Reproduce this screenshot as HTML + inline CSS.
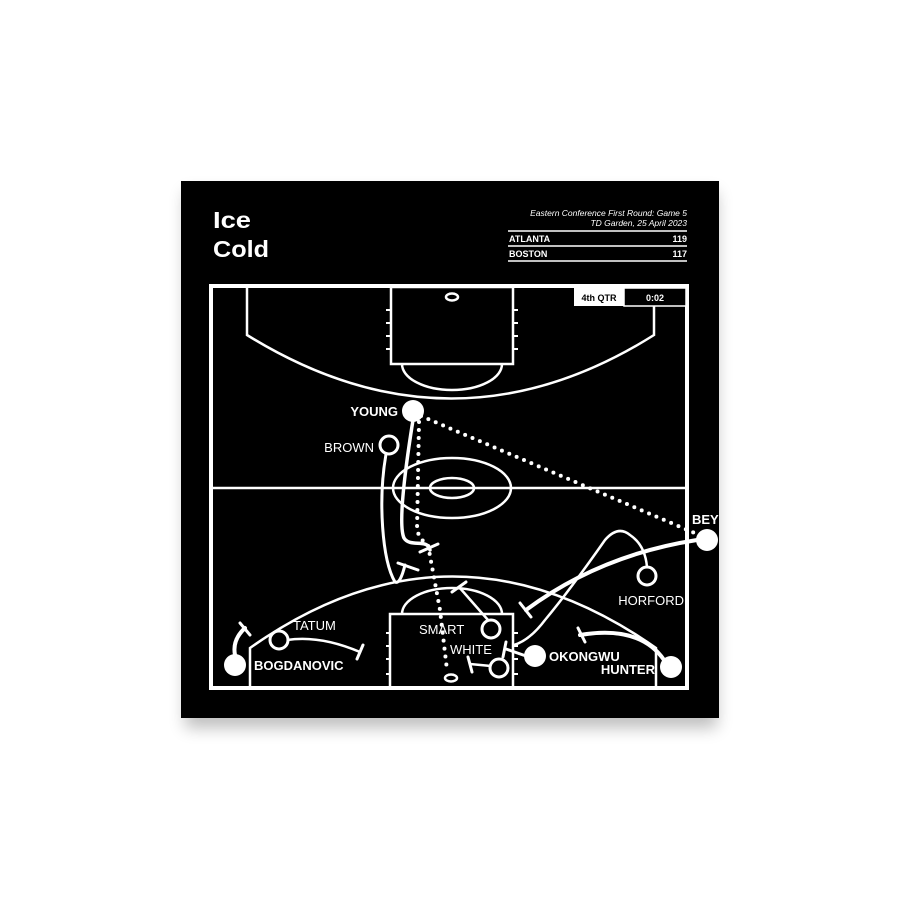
<!DOCTYPE html>
<html><head><meta charset="utf-8"><style>
html,body{margin:0;padding:0;background:#fff;width:900px;height:900px;overflow:hidden}
svg{display:block}
text{font-family:"Liberation Sans",Arial,sans-serif;fill:#fff}
</style></head><body>
<svg width="900" height="900" viewBox="0 0 900 900">
<defs><filter id="sh" x="-10%" y="-10%" width="120%" height="130%"><feGaussianBlur stdDeviation="8"/></filter>
<clipPath id="pc"><rect x="181" y="181" width="538" height="537"/></clipPath></defs>
<rect x="185" y="192" width="532" height="536" fill="#000" opacity="0.25" filter="url(#sh)"/>
<rect x="181" y="181" width="538" height="537" fill="#000"/>
<g clip-path="url(#pc)">
<text x="213" y="228" font-size="23" font-weight="bold" textLength="38" lengthAdjust="spacingAndGlyphs">Ice</text>
<text x="213" y="257" font-size="23" font-weight="bold" textLength="56" lengthAdjust="spacingAndGlyphs">Cold</text>
<text x="687" y="216" font-size="8.5" font-style="italic" text-anchor="end">Eastern Conference First Round: Game 5</text>
<text x="687" y="226" font-size="8.5" font-style="italic" text-anchor="end">TD Garden, 25 April 2023</text>
<g stroke="#fff" stroke-width="1.5"><line x1="508" y1="231" x2="687" y2="231"/><line x1="508" y1="246" x2="687" y2="246"/><line x1="508" y1="261" x2="687" y2="261"/></g>
<text x="509" y="242" font-size="9" font-weight="bold">ATLANTA</text><text x="687" y="242" font-size="9" font-weight="bold" text-anchor="end">119</text>
<text x="509" y="257" font-size="9" font-weight="bold">BOSTON</text><text x="687" y="257" font-size="9" font-weight="bold" text-anchor="end">117</text>
<g fill="none" stroke="#fff" stroke-width="2.5">
<rect x="211" y="286" width="476" height="402" stroke-width="4"/>
<line x1="211" y1="488" x2="687" y2="488"/>
<ellipse cx="452" cy="488" rx="59" ry="30"/>
<ellipse cx="452" cy="488" rx="22" ry="10"/>
<path d="M247,287 V335 Q452,462 654,335 V287"/>
<rect x="391" y="287" width="122" height="77"/>
<path d="M402,364 A50,26 0 0 0 502,364"/>
<ellipse cx="452" cy="297" rx="6" ry="3.5"/>
<path d="M250,688 V648 Q452,505 656,648 V688"/>
<rect x="390" y="614" width="123" height="74"/>
<path d="M402,614 A50,26 0 0 1 502,614"/>
<ellipse cx="451" cy="678" rx="6" ry="3.5"/>
</g>
<g stroke="#fff" stroke-width="2"><line x1="386" y1="310" x2="390" y2="310"/><line x1="386" y1="323" x2="390" y2="323"/><line x1="386" y1="336" x2="390" y2="336"/><line x1="386" y1="349" x2="390" y2="349"/><line x1="514" y1="310" x2="518" y2="310"/><line x1="514" y1="323" x2="518" y2="323"/><line x1="514" y1="336" x2="518" y2="336"/><line x1="514" y1="349" x2="518" y2="349"/>
<line x1="386" y1="633" x2="390" y2="633"/><line x1="386" y1="646" x2="390" y2="646"/><line x1="386" y1="659" x2="390" y2="659"/><line x1="386" y1="674" x2="390" y2="674"/><line x1="514" y1="633" x2="518" y2="633"/><line x1="514" y1="646" x2="518" y2="646"/><line x1="514" y1="659" x2="518" y2="659"/><line x1="514" y1="674" x2="518" y2="674"/></g>
<rect x="574" y="288" width="50" height="18" fill="#fff"/>
<rect x="624" y="288" width="62" height="18" fill="#000" stroke="#fff" stroke-width="1.5"/>
<text x="599" y="301" font-size="9" font-weight="bold" text-anchor="middle" style="fill:#000">4th QTR</text>
<text x="655" y="301" font-size="9" font-weight="bold" text-anchor="middle">0:02</text>
<g fill="none" stroke="#fff" stroke-linecap="round">
<path d="M421,416 L697,534" stroke-width="4" stroke-dasharray="0 8"/>
<path d="M419,422 L417,530 Q420,540 428,545 L440,610 L447,670" stroke-width="4" stroke-dasharray="0 8"/>
<path d="M413,420 C405,470 398,525 404,538 C410,548 428,538 430,550" stroke-width="3.5"/>
<line x1="420" y1="552" x2="438" y2="544" stroke-width="3"/>
<path d="M386,454 C378,500 382,560 395,582 Q400,585 405,565" stroke-width="3"/>
<line x1="398" y1="563" x2="418" y2="570" stroke-width="3"/>
<path d="M488,620 L459,587" stroke-width="2.5"/><line x1="452" y1="592" x2="466" y2="582" stroke-width="3"/>
<line x1="491" y1="666" x2="470" y2="664" stroke-width="2.5"/><line x1="468" y1="657" x2="472" y2="672" stroke-width="3"/>
<line x1="526" y1="656" x2="506" y2="649" stroke-width="3"/><line x1="506" y1="642" x2="503" y2="657" stroke-width="3"/>
<path d="M697,540 Q600,555 526,610" stroke-width="4"/><line x1="520" y1="603" x2="531" y2="617" stroke-width="3"/>
<path d="M647,567 Q645,545 630,535 Q618,525 605,540 Q570,590 545,620 Q530,640 514,645" stroke-width="2.5"/>
<path d="M664,660 Q640,625 580,635" stroke-width="4"/><line x1="578" y1="628" x2="585" y2="642" stroke-width="3"/>
<path d="M235,655 Q232,640 245,628" stroke-width="4"/><line x1="240" y1="623" x2="250" y2="635" stroke-width="3"/>
<path d="M287,640 Q320,635 360,652" stroke-width="2.5"/><line x1="357" y1="659" x2="363" y2="645" stroke-width="3"/>
</g>
<g fill="#fff"><circle cx="413" cy="411" r="11"/><circle cx="707" cy="540" r="11"/><circle cx="535" cy="656" r="11"/><circle cx="235" cy="665" r="11"/><circle cx="671" cy="667" r="11"/></g>
<g fill="#000" stroke="#fff" stroke-width="3"><circle cx="389" cy="445" r="9"/><circle cx="647" cy="576" r="9"/><circle cx="491" cy="629" r="9"/><circle cx="499" cy="668" r="9"/><circle cx="279" cy="640" r="9"/></g>
<g font-size="13" font-weight="bold">
<text x="398" y="416" text-anchor="end">YOUNG</text>
<text x="692" y="524">BEY</text>
<text x="549" y="661">OKONGWU</text>
<text x="254" y="670">BOGDANOVIC</text>
<text x="655" y="674" text-anchor="end">HUNTER</text>
</g>
<g font-size="13">
<text x="374" y="452" text-anchor="end">BROWN</text>
<text x="684" y="605" text-anchor="end">HORFORD</text>
<text x="419" y="634">SMART</text>
<text x="450" y="654">WHITE</text>
<text x="293" y="630">TATUM</text>
</g>
</g>
</svg>
</body></html>
